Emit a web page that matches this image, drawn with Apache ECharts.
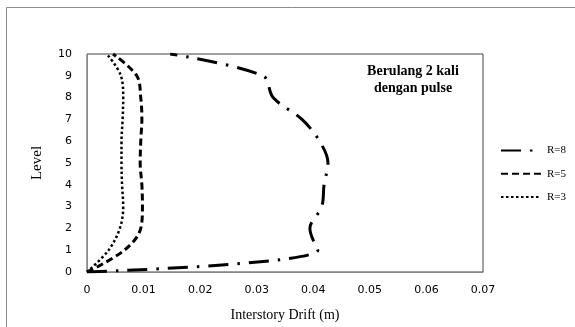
<!DOCTYPE html>
<html>
<head>
<meta charset="utf-8">
<script src="https://cdn.jsdelivr.net/npm/echarts@6/dist/echarts.min.js"></script>
<style>
html,body{margin:0;padding:0;background:#fff;}
#chart{width:575px;height:327px;}
</style>
</head>
<body>
<div id="chart"></div>
<script>
// level (y) and interstory drift (x) per series
var levels = [0, 1, 2, 3, 4, 5, 6, 7, 8, 9, 10];
var r8 = [0, 0.0408, 0.0394, 0.0415, 0.0419, 0.0426, 0.0411, 0.0380, 0.0329, 0.0311, 0.0147];
var r5 = [0, 0.0066, 0.0095, 0.0098, 0.0097, 0.0094, 0.0095, 0.0097, 0.0095, 0.0088, 0.0046];
var r3 = [0, 0.0038, 0.0058, 0.0064, 0.0062, 0.0061, 0.0061, 0.0063, 0.0064, 0.0060, 0.0035];
var seriesNames = ['R=8', 'R=5', 'R=3'];

function pairs(arr){
    var out = [];
    for(var i=0;i<arr.length;i++){
        out.push([arr[i], levels[i]]);
    }
    return out;
}

var serif = '"Liberation Serif", "DejaVu Serif", serif';

var chart = echarts.init(document.getElementById('chart'));
chart.setOption({
    animation:false,
    backgroundColor:'#fff',
    color:['#000','#000','#000'],
    graphic:[
        {
            type:'rect',
            shape:{x:6.5, y:7.5, width:580, height:330},
            style:{fill:'none', stroke:'#8c8c8c', lineWidth:1}
        },
        {
            type:'text',
            x:413, y:63,
            style:{
                text:'Berulang 2 kali\ndengan pulse',
                font:'bold 14px ' + serif,
                fill:'#000',
                align:'center',
                lineHeight:17
            }
        }
    ],
    grid:{
        left:87, right:92, top:54, bottom:53,
        show:true,
        borderColor:'#444',
        borderWidth:1
    },
    legend:{
        orient:'vertical',
        left:495, top:140,
        itemGap:12,
        itemWidth:40,
        itemHeight:14,
        data:seriesNames,
        itemStyle:{opacity:0},
        textStyle:{
            fontFamily:serif,
            fontSize:11,
            color:'#000',
            padding:[0,0,0,1]
        }
    },
    xAxis:{
        type:'value',
        min:0, max:0.07, interval:0.01,
        name:'Interstory Drift (m)',
        nameLocation:'middle',
        nameGap:36,
        nameTextStyle:{fontFamily:serif, fontSize:14, color:'#000'},
        axisLine:{lineStyle:{color:'#888', width:1}},
        axisTick:{show:false},
        splitLine:{show:false},
        axisLabel:{
            margin:13,
            color:'#000',
            fontFamily:'"DejaVu Sans", sans-serif',
            fontSize:11,
            formatter:function(v){ return String(+v.toFixed(2)); }
        }
    },
    yAxis:{
        type:'value',
        min:0, max:10, interval:1,
        name:'Level',
        nameLocation:'middle',
        nameGap:42,
        nameRotate:90,
        nameTextStyle:{fontFamily:serif, fontSize:15, color:'#000'},
        axisLine:{show:true, lineStyle:{color:'#888', width:1}},
        axisTick:{show:false},
        splitLine:{show:false},
        axisLabel:{
            margin:15,
            color:'#000',
            fontFamily:'"DejaVu Sans", sans-serif',
            fontSize:11
        }
    },
    series:[
        {
            name:seriesNames[0],
            type:'line',
            data:pairs(r8),
            smooth:0.35,
            symbol:'none',
            itemStyle:{color:'#000'},
            lineStyle:{color:'#000', width:3, type:[20,9,2.5,9]}
        },
        {
            name:seriesNames[1],
            type:'line',
            data:pairs(r5),
            smooth:0.35,
            symbol:'none',
            itemStyle:{color:'#000'},
            lineStyle:{color:'#000', width:3, type:[7,4]}
        },
        {
            name:seriesNames[2],
            type:'line',
            data:pairs(r3),
            smooth:0.35,
            symbol:'none',
            itemStyle:{color:'#000'},
            lineStyle:{color:'#000', width:2.5, type:[2.5,2.5]}
        }
    ]
});
</script>
</body>
</html>
